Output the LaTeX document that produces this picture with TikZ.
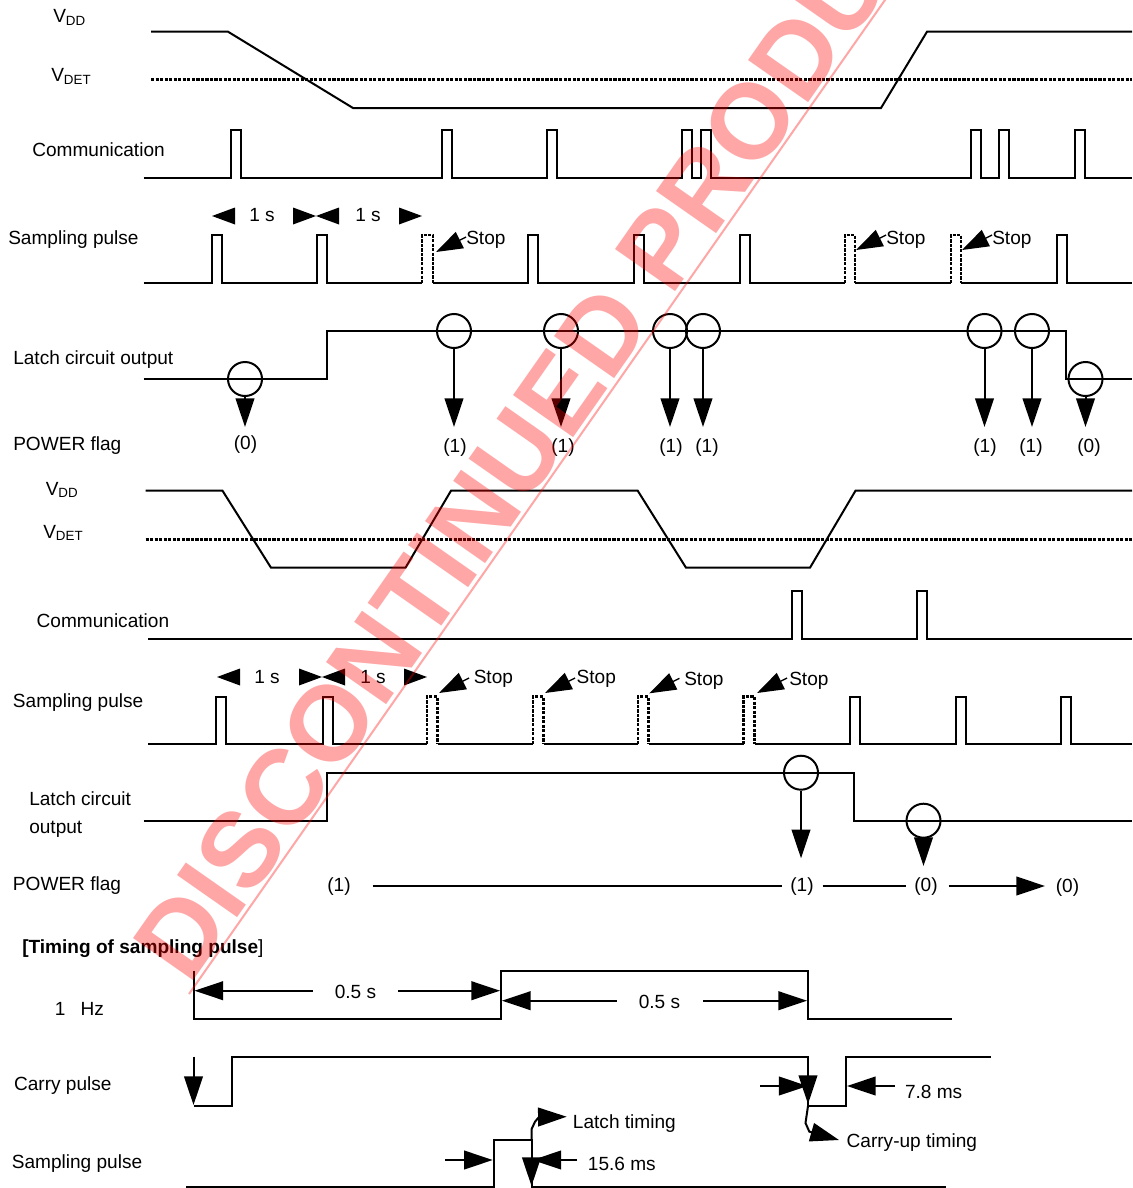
\documentclass[tikz,border=0pt]{standalone}
\usepackage{fontspec}
\setmainfont{Liberation Sans}
\usetikzlibrary{arrows.meta}
\newcommand\lab{\fontsize{14.3}{17}\selectfont}
\begin{document}
\begin{tikzpicture}[x=0.75pt,y=-0.75pt,
  sig/.style={line width=1.5pt, line join=miter},
  dots/.style={line width=2pt, dash pattern=on 2.4pt off 1pt},
  lbl/.style={anchor=base west, inner sep=0pt, font=\lab},
  val/.style={anchor=base, inner sep=0pt, font=\lab},
  arr/.style={line width=1.5pt, -{Triangle[length=21.5pt,width=14pt]}},
  stoparr/.style={line width=1pt, -{Triangle[length=20pt,width=13.5pt]}},
  flag/.style={draw, circle, line width=1.5pt, minimum size=25.5pt, inner sep=0pt}]
\useasboundingbox (0,0) rectangle (1132,1188);

%================ SECTION 1 =================
\node[lbl] (vdd1) at (53,23) {V\textsubscript{DD}};
\node[lbl] (vdet1) at (51,81.5) {V\textsubscript{DET}};
\node[lbl] (com1) at (32,156) {Communication};
\node[lbl] (sp1) at (8,244) {Sampling pulse};
\node[lbl] (lco1) at (13,364) {Latch circuit output};
\node[lbl] (pf1) at (13,450.5) {POWER flag};

\draw[sig] (151,31.7) -- (228,31.7) -- (353,108) -- (881,108) -- (927,31.7) -- (1132,31.7);
\draw[dots] (151,79.3) -- (1132,79.3);

\draw[sig] (143.6,177.7) -| (231,129.5) -| (241,177.7) -| (442,129.5) -| (452,177.7)
  -| (547,129.5) -| (557,177.7) -| (681.5,129.5) -| (691.5,177.7) -| (701,129.5) -| (711,177.7)
  -| (970.5,129.5) -| (980.5,177.7) -| (998.5,129.5) -| (1008.5,177.7) -| (1075,129.5) -| (1085,177.7) -- (1132,177.7);

% sampling pulse 1
\draw[sig] (143.6,283.3) -| (212,235) -| (222,283.3) -| (317,235) -| (327,283.3) -- (422,283.3);
\draw[dots] (422,283.3) -- (422,235) -- (433,235) -- (433,283.3);
\draw[sig] (433,283.3) -| (528,235) -| (538,283.3) -| (634,235) -| (644,283.3) -| (739.5,235) -| (749.5,283.3) -- (845,283.3);
\draw[dots] (845,283.3) -- (845,235) -- (855,235) -- (855,283.3);
\draw[sig] (855,283.3) -- (951,283.3);
\draw[dots] (951,283.3) -- (951,235) -- (961,235) -- (961,283.3);
\draw[sig] (961,283.3) -| (1057,235) -| (1067,283.3) -- (1132,283.3);

\fill (212,216) -- ++(23,-8.5) -- ++(0,17) -- cycle;
\fill (316,216) -- ++(-23,-8.5) -- ++(0,17) -- cycle;
\fill (316,216) -- ++(23,-8.5) -- ++(0,17) -- cycle;
\fill (422,216) -- ++(-23,-8.5) -- ++(0,17) -- cycle;
\node[val] (os1) at (262,221) {1 s};
\node[val] (os2) at (368,221) {1 s};

\coordinate (st1) at (436,252);
\coordinate (st2) at (856,250);
\coordinate (st3) at (962,250);
\draw[stoparr] (466,237) -- (st1);
\draw[stoparr] (886,235) -- (st2);
\draw[stoparr] (992,235) -- (st3);
\node[lbl] (stop1) at (466,244) {Stop};
\node[lbl] (stop2) at (886,244) {Stop};
\node[lbl] (stop3) at (992,244) {Stop};

% latch 1
\draw[sig] (143.6,379) -| (326.5,331) -- (1066,331) |- (1132,379);
\coordinate (pf) at (0,427);
\node[flag] (a1) at (245,379) {};
\node[flag] (a2) at (454,331) {};
\node[flag] (a3) at (561,331) {};
\node[flag] (a4) at (670,331) {};
\node[flag] (a5) at (703,331) {};
\node[flag] (a6) at (984.5,331) {};
\node[flag] (a7) at (1032,331) {};
\node[flag] (a8) at (1085.5,379) {};
\foreach \n in {a1,a2,a3,a4,a5,a6,a7,a8} \draw[arr] (\n.south) -- (\n |- pf);

\node[val] (v1) at (245.5,449) {(0)};
\node[val] (v2) at (455,452) {(1)};
\node[val] (v3) at (563,452) {(1)};
\node[val] (v4) at (671,452) {(1)};
\node[val] (v5) at (707,452) {(1)};
\node[val] (v6) at (985,452) {(1)};
\node[val] (v7) at (1031,452) {(1)};
\node[val] (v8) at (1089,452) {(0)};

%================ SECTION 2 =================
\node[lbl] (vdd2) at (45.5,495) {V\textsubscript{DD}};
\node[lbl] (vdet2) at (43,538) {V\textsubscript{DET}};
\node[lbl] (com2) at (36.4,627) {Communication};
\node[lbl] (sp2) at (12.7,707) {Sampling pulse};
\node[lbl] (lco2a) at (29,805.3) {Latch circuit};
\node[lbl] (lco2b) at (29,833) {output};
\node[lbl] (pf2) at (12.7,890) {POWER flag};

\draw[sig] (145.5,490.7) -- (222.5,490.7) -- (271,567.7) -- (405.5,567.7) -- (451,490.7) -- (637.7,490.7)
  -- (686,567.7) -- (810,567.7) -- (855.5,490.7) -- (1132,490.7);
\draw[dots] (145.5,539.3) -- (1132,539.3);

\draw[sig] (148,639.3) -| (792,590.7) -| (802,639.3) -| (917,590.7) -| (927,639.3) -- (1132,639.3);

% sampling pulse 2
\draw[sig] (148,744.3) -| (216,696.7) -| (226,744.3) -| (322.5,696.7) -| (332.5,744.3) -- (427,744.3);
\draw[dots] (427,744.3) -- (427,696.7) -- (437.5,696.7) -- (437.5,744.3);
\draw[sig] (437.5,744.3) -- (533,744.3);
\draw[dots] (533,744.3) -- (533,696.7) -- (543.5,696.7) -- (543.5,744.3);
\draw[sig] (543.5,744.3) -- (638,744.3);
\draw[dots] (638,744.3) -- (638,696.7) -- (648.5,696.7) -- (648.5,744.3);
\draw[sig] (648.5,744.3) -- (743.5,744.3);
\draw[dots] (743.5,744.3) -- (743.5,696.7) -- (754.5,696.7) -- (754.5,744.3);
\draw[sig] (754.5,744.3) -| (850,696.7) -| (860,744.3) -| (956,696.7) -| (965.5,744.3)
  -| (1060.5,696.7) -| (1070.5,744.3) -- (1132,744.3);

\fill (217,677) -- ++(23,-8.5) -- ++(0,17) -- cycle;
\fill (322,677) -- ++(-23,-8.5) -- ++(0,17) -- cycle;
\fill (322,677) -- ++(23,-8.5) -- ++(0,17) -- cycle;
\fill (427,677) -- ++(-23,-8.5) -- ++(0,17) -- cycle;
\node[val] (os3) at (267,683) {1 s};
\node[val] (os4) at (373,683) {1 s};

\coordinate (st4) at (439,693);
\coordinate (st5) at (545,693);
\coordinate (st6) at (649.4,693.3);
\coordinate (st7) at (757,693);
\draw[stoparr] (469,678) -- (st4);
\draw[stoparr] (575,678) -- (st5);
\draw[stoparr] (679.4,678.3) -- (st6);
\draw[stoparr] (787,678) -- (st7);
\node[lbl] (stop4) at (473.5,683.6) {Stop};
\node[lbl] (stop5) at (576.4,683.6) {Stop};
\node[lbl] (stop6) at (684,685.5) {Stop};
\node[lbl] (stop7) at (789,685.5) {Stop};

% latch 2
\draw[sig] (143.6,820.7) -| (326.5,772.7) -- (854.4,772.7) |- (1132,820.7);
\node[flag] (b1) at (801,772.7) {};
\node[flag] (b2) at (923.5,820.7) {};
\coordinate (q1) at (801,858.3);
\coordinate (q2) at (923.5,866);
\draw[arr] (b1.south) -- (q1);
\draw[arr] (b2.south) -- (q2);

\node[val] (w1) at (339,891) {(1)};
\node[val] (w2) at (802,891) {(1)};
\node[val] (w3) at (926,891) {(0)};
\node[val] (w4) at (1067.5,892) {(0)};
\draw[sig] (372.7,886) -- (782,886);
\draw[sig] (822.7,886) -- (905.9,886);
\draw[arr] (948.5,886) -- (1045,886);

%================ SECTION 3 =================
\node[lbl] (ttl) at (22,953) {\bfseries [Timing of sampling pulse\mdseries ]};
\node[lbl] (hz) at (54.5,1015) {1\hspace{11.5pt}Hz};
\node[lbl] (cp) at (13.8,1090.3) {Carry pulse};
\node[lbl] (sp3) at (11.6,1168.6) {Sampling pulse};

\draw[sig] (193.5,970.7) -- (193.5,1019.3) -| (501,970.7) -| (808,1019.3) -- (952,1019.3);
\node[val] (h1) at (355.5,998.6) {0.5 s};
\node[val] (h2) at (659.5,1008.6) {0.5 s};
\draw[arr] (312.7,990.7) -- (194.5,990.7);
\draw[arr] (398,990.7) -- (500,990.7);
\draw[arr] (616.5,1000.7) -- (502,1000.7);
\draw[arr] (703,1000.7) -- (807,1000.7);

\draw[sig] (193.5,1105.7) -| (232,1057.3) -| (808,1105.7) -| (846.4,1057.3) -- (990.5,1057.3);
\draw[arr] (193.5,1056.7) -- (193.5,1105);
\draw[arr] (808,1060) -- (808,1104);
\draw[arr] (760,1086) -- (807.5,1086);
\draw[arr] (895,1086) -- (847,1086);
\node[lbl] (ms78) at (904.8,1098.5) {7.8 ms};
\draw[line width=1.5pt] (808,1106) -- (805.5,1123) -- (809.5,1132);
\draw[arr] (809,1131.5) -- (839,1140);
\node[lbl] (cut) at (846.4,1147) {Carry-up timing};

\draw[sig] (186,1186.8) -| (493.5,1140) -| (531.5,1186.8) -- (945.6,1186.8);
\draw[arr] (531.5,1142) -- (531.5,1186);
\draw[line width=1.5pt] (531.5,1140) -- (531.5,1129.3) -- (535,1121.7) -- (539,1117);
\draw[arr] (538.5,1117) -- (566.7,1116.7);
\node[lbl] (lt) at (572.7,1128.6) {Latch timing};
\draw[arr] (445,1160) -- (492.7,1160);
\draw[arr] (577,1160) -- (532.5,1160);
\node[lbl] (ms156) at (587.7,1170.3) {15.6 ms};

%================ WATERMARK =================
\node[anchor=base west, inner sep=0pt, rotate=55, text=red, opacity=0.35,
  font=\fontsize{80}{80}\selectfont\bfseries] (wm) at (189,987) {DISCONTINUED PRODUCT};
\draw[red, opacity=0.35, line width=1.5pt] (189,994) -- (892,-10);
\end{tikzpicture}
\end{document}
